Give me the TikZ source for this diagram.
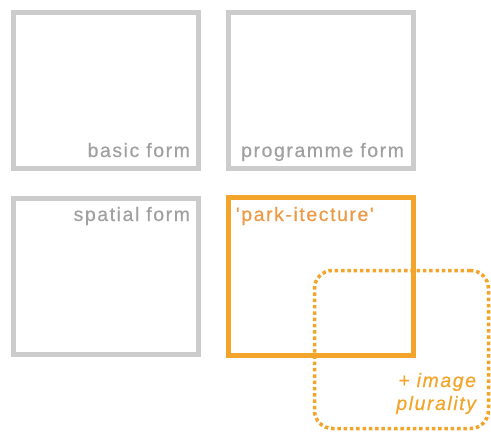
\documentclass[tikz,border=0pt]{standalone}
\usepackage{fontspec}
\setmainfont{Liberation Sans}
\newfontfamily\lbl[LetterSpace=8,FakeBold=0.5]{Liberation Sans}
\definecolor{boxgray}{HTML}{CCCCCC}
\definecolor{txtgray}{HTML}{A0A0A0}
\definecolor{orng}{HTML}{F2A52A}
\definecolor{orngtxt}{HTML}{EC9A45}
\begin{document}
\begin{tikzpicture}[x=1pt,y=-1pt,
  every node/.style={outer sep=0pt},
  graybox/.style={draw=boxgray,line width=5pt,minimum width=185pt,minimum height=156pt,inner sep=0pt,anchor=north west},
  orangebox/.style={draw=orng,line width=4.5pt,minimum width=185pt,minimum height=158pt,inner sep=0pt,anchor=north west},
  dotbox/.style={draw=orng,line width=3.5pt,dash pattern=on 3.5pt off 2.8pt,rounded corners=18pt,minimum width=174pt,minimum height=158pt,inner sep=0pt,anchor=north west},
  lab/.style={font=\lbl\fontsize{19.5}{22}\selectfont,text=txtgray,inner sep=0pt},
  olab/.style={font=\lbl\fontsize{19.5}{22}\selectfont\itshape,text=orng,inner sep=0pt,anchor=base east}
]
\useasboundingbox (0,0) rectangle (491,439);
\node[graybox] (b1) at (13.5,12.5) {};
\node[graybox] (b2) at (228.5,12.5) {};
\node[graybox] (b3) at (13.5,198.5) {};
\node[orangebox] (b4) at (228.5,197.5) {};
\node[dotbox] (b5) at (314.5,270.5) {};
\node[lab,anchor=base east] (t1) at (190,157) {basic form};
\node[lab,anchor=base east] (t2) at (404,157) {programme form};
\node[lab,anchor=base east] (t3) at (190,221) {spatial form};
\node[lab,anchor=base west,text=orngtxt] (t4) at (236,221) {'park-itecture'};
\node[olab] (t5) at (476,387) {+ image};
\node[olab] (t6) at (476,410) {plurality};
\end{tikzpicture}
\end{document}
